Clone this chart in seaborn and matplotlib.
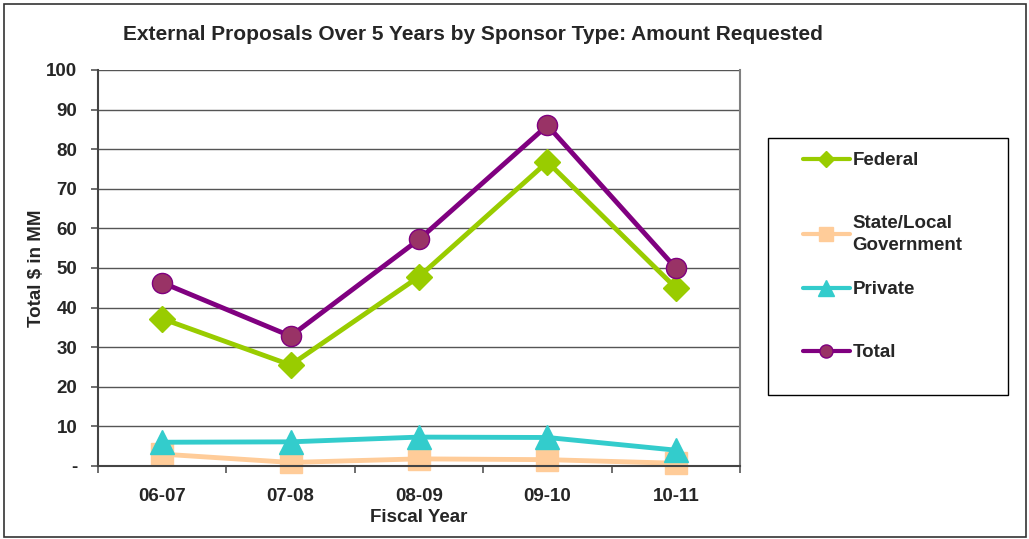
import matplotlib
matplotlib.use("Agg")
import matplotlib.pyplot as plt
import matplotlib.patches as mpatches
from matplotlib.ticker import FixedLocator
import seaborn as sns
import pandas as pd

years = ["06-07", "07-08", "08-09", "09-10", "10-11"]
federal = [37.2, 25.5, 47.8, 76.8, 45.0]
state_local = [3.0, 0.9, 1.8, 1.6, 0.7]
private = [6.0, 6.1, 7.3, 7.2, 4.0]
total = [46.3, 32.8, 57.2, 86.0, 50.0]
series_names = ["Federal", "State/Local\nGovernment", "Private", "Total"]
y_ticks = [0, 10, 20, 30, 40, 50, 60, 70, 80, 90, 100]
y_tick_labels = ["-", "10", "20", "30", "40", "50", "60", "70", "80", "90", "100"]

sns.set_theme(style="white")
plt.rcParams["font.family"] = ["Liberation Sans", "DejaVu Sans"]
plt.rcParams["font.weight"] = "bold"

W, H = 1029, 539
fig = plt.figure(figsize=(W/100, H/100), dpi=100)
ax = fig.add_axes([98/W, 1-466/H, (740-98)/W, (466-70)/H])

styles = [
    dict(color="#99CC00", marker="D", ms=13, mfc="#99CC00", mec="#99CC00"),
    dict(color="#FFCC99", marker="s", ms=16, mfc="#FFCC99", mec="#FFCC99"),
    dict(color="#33CCCC", marker="^", ms=17, mfc="#33CCCC", mec="#33CCCC"),
    dict(color="#800080", marker="o", ms=14.5, mfc="#993366", mec="#800080"),
]
data = [federal, state_local, private, total]
handles = []
for name, vals, st in zip(series_names, data, styles):
    df = pd.DataFrame({"year": years, "value": vals})
    sns.lineplot(data=df, x="year", y="value", ax=ax, color=st["color"],
                 linewidth=3.5, marker=st["marker"], markersize=st["ms"],
                 markerfacecolor=st["mfc"], markeredgecolor=st["mec"],
                 markeredgewidth=1.0, label=name, legend=False)
    ln = ax.lines[-1]
    ln.set_clip_on(False)
    handles.append(ln)

ax.set_xlim(-0.5, 4.5)
ax.set_ylim(0, 100)
ax.set_yticks(y_ticks)
ax.set_yticklabels(y_tick_labels)
ax.set_xticks(range(len(years)))
ax.set_xticklabels(years)
ax.xaxis.set_minor_locator(FixedLocator([-0.5, 0.5, 1.5, 2.5, 3.5, 4.5]))
ax.tick_params(axis="x", which="major", length=0, pad=16, labelsize=13.5)
ax.tick_params(axis="x", which="minor", length=5, width=1.2, color="#555555",
               direction="out", bottom=True)
ax.tick_params(axis="y", which="major", length=5, width=1.2, color="#555555",
               direction="out", left=True, pad=10, labelsize=13.5)
for lbl in ax.get_xticklabels() + ax.get_yticklabels():
    lbl.set_fontweight("bold")

ax.grid(axis="y", color="#555555", linewidth=1.0)
ax.set_axisbelow(True)
for side in ["left", "bottom"]:
    ax.spines[side].set_color("#444444")
    ax.spines[side].set_linewidth(1.5)
ax.spines["right"].set_color("#808080")
ax.spines["right"].set_linewidth(1.5)
ax.spines["top"].set_visible(False)

ax.set_xlabel("Fiscal Year", fontsize=13.5, fontweight="bold", labelpad=3)
ax.set_ylabel("Total $ in MM", fontsize=13.5, fontweight="bold", labelpad=0.5)

fig.text(473/W, 1-34/H, "External Proposals Over 5 Years by Sponsor Type: Amount Requested",
         ha="center", va="center", fontsize=15, fontweight="bold")

# legend frame
fig.patches.append(mpatches.Rectangle((768/W, 1-395/H), (1008-768)/W, (395-138)/H,
                                      transform=fig.transFigure, fill=False,
                                      edgecolor="#000000", linewidth=1.0))
leg_kw = dict(loc="upper left", frameon=False, fontsize=13.5, handlelength=2.5,
              handletextpad=0.15, borderpad=0, borderaxespad=0, markerscale=0.65)
leg1 = fig.legend(handles[:2], series_names[:2], bbox_to_anchor=(803/W, 1-152/H),
                  labelspacing=2.45, **leg_kw)
leg2 = fig.legend(handles[2:], series_names[2:], bbox_to_anchor=(803/W, 1-281/H),
                  labelspacing=2.45, **leg_kw)
for leg in (leg1, leg2):
    for t in leg.get_texts():
        t.set_fontweight("bold")
        t.set_linespacing(1.35)
    for lh in leg.legend_handles:
        lh.set_linewidth(3.0)

fig.patches.append(mpatches.Rectangle((4/W, 2/H), 1022/W, 533/H,
                                      transform=fig.transFigure, fill=False,
                                      edgecolor="#333333", linewidth=1.2))

fig.savefig("out.png", dpi=100)
